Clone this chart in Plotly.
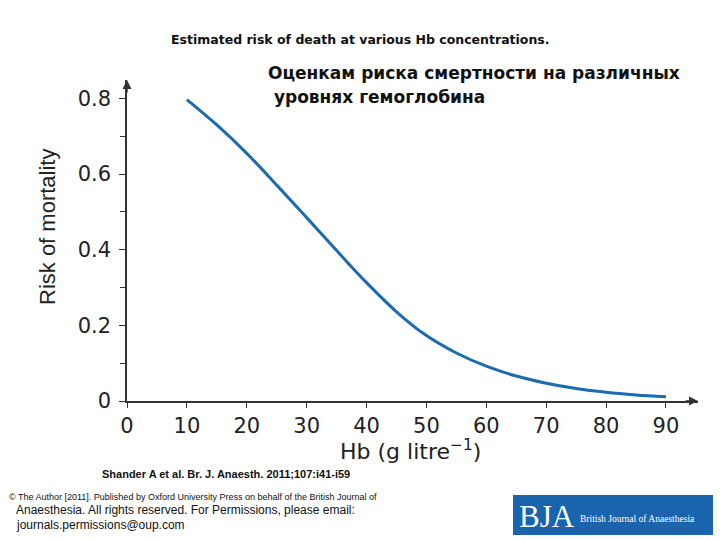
import plotly.graph_objects as go

hb = [10, 15, 20, 25, 30, 35, 40, 45, 50, 55, 60, 65, 70, 75, 80, 85, 90]
risk = [0.797, 0.73, 0.655, 0.571, 0.485, 0.398, 0.313, 0.236, 0.173, 0.127,
        0.092, 0.066, 0.047, 0.033, 0.023, 0.016, 0.011]

x_ticks = [0, 10, 20, 30, 40, 50, 60, 70, 80, 90]
y_ticks = [0, 0.2, 0.4, 0.6, 0.8]
y_tick_labels = ["0", "0.2", "0.4", "0.6", "0.8"]

W, H = 720, 540
L, R, T, B = 127, 22, 80, 139

def px(xp):
    return (xp - L) / (W - L - R)

def py(yp):
    return (H - B - yp) / (H - T - B)

fig = go.Figure()
fig.add_trace(go.Scatter(x=hb, y=risk, mode="lines",
                         line=dict(color="#1b6bb0", width=3, shape="spline", smoothing=1.0),
                         hoverinfo="skip", showlegend=False))

axis_font = dict(family="DejaVu Sans, sans-serif", size=21, color="#222")
fig.update_xaxes(range=[0, 95.35], tickvals=x_ticks, ticks="outside", ticklen=5,
                 tickcolor="#333", showline=True, linecolor="#333", linewidth=1.5,
                 showgrid=False, zeroline=False, tickfont=axis_font)
fig.update_yaxes(range=[0, 0.849], tickvals=y_ticks, ticktext=y_tick_labels, ticks="outside", ticklen=6,
                 tickcolor="#333", showline=True, linecolor="#333", linewidth=1.5,
                 minor=dict(dtick=0.1, ticks="outside", ticklen=5, tickcolor="#333"),
                 showgrid=False, zeroline=False, tickfont=axis_font, ticklabelstandoff=4)

ann = []
# axis arrowheads
ann.append(dict(x=0, y=0.849, xref="x", yref="y", ax=0, ay=14, axref="pixel", ayref="pixel",
                showarrow=True, arrowhead=2, arrowsize=1.2, arrowwidth=1.5, arrowcolor="#333", text=""))
ann.append(dict(x=95.35, y=0, xref="x", yref="y", ax=-14, ay=0,
                showarrow=True, arrowhead=2, arrowsize=1.2, arrowwidth=1.5, arrowcolor="#333", text=""))
# axis titles
ann.append(dict(x=px(47), y=py(227), xref="paper", yref="paper", showarrow=False,
                text="Risk of mortality", textangle=-90,
                font=dict(family="Liberation Sans, Arial, sans-serif", size=22, color="#222"),
                xanchor="center", yanchor="middle"))
ann.append(dict(x=px(410), y=py(450), xref="paper", yref="paper", showarrow=False,
                text="Hb (g litre<sup>−1</sup>)",
                font=dict(family="DejaVu Sans, sans-serif", size=22, color="#222"),
                xanchor="center", yanchor="middle"))
# titles
ann.append(dict(x=px(360), y=py(40), xref="paper", yref="paper", showarrow=False,
                text="<b>Estimated risk of death at various Hb concentrations.</b>",
                font=dict(family="DejaVu Sans, sans-serif", size=12.5, color="#111"),
                xanchor="center", yanchor="middle"))
ann.append(dict(x=px(266), y=py(73), xref="paper", yref="paper", showarrow=False,
                text="<b>Оценкам риска смертности на различных</b>",
                font=dict(family="DejaVu Sans, sans-serif", size=17, color="#111"),
                xanchor="left", yanchor="middle"))
ann.append(dict(x=px(266), y=py(97), xref="paper", yref="paper", showarrow=False,
                text="<b> уровнях гемоглобина</b>",
                font=dict(family="DejaVu Sans, sans-serif", size=17, color="#111"),
                xanchor="left", yanchor="middle"))
# citation
ann.append(dict(x=px(226), y=py(474), xref="paper", yref="paper", showarrow=False,
                text="<b>Shander A et al. Br. J. Anaesth. 2011;107:i41-i59</b>",
                font=dict(family="Liberation Sans Narrow, Liberation Sans, Arial, sans-serif", size=11, color="#111"),
                xanchor="center", yanchor="middle"))
ann.append(dict(x=px(7), y=py(497), xref="paper", yref="paper", showarrow=False,
                text="© The Author [2011]. Published by Oxford University Press on behalf of the British Journal of",
                font=dict(family="Liberation Sans Narrow, Liberation Sans, Arial, sans-serif", size=9, color="#111"),
                xanchor="left", yanchor="middle"))
ann.append(dict(x=px(14), y=py(510), xref="paper", yref="paper", showarrow=False,
                text="Anaesthesia. All rights reserved. For Permissions, please email:",
                font=dict(family="Liberation Sans, Arial, sans-serif", size=12, color="#111"),
                xanchor="left", yanchor="middle"))
ann.append(dict(x=px(14), y=py(525), xref="paper", yref="paper", showarrow=False,
                text="journals.permissions@oup.com",
                font=dict(family="Liberation Sans, Arial, sans-serif", size=12, color="#111"),
                xanchor="left", yanchor="middle"))
# BJA logo text
ann.append(dict(x=px(517), y=py(516), xref="paper", yref="paper", showarrow=False,
                text="BJA",
                font=dict(family="Liberation Serif, Times New Roman, serif", size=31, color="white"),
                xanchor="left", yanchor="middle"))
ann.append(dict(x=px(578), y=py(519), xref="paper", yref="paper", showarrow=False,
                text="British Journal of Anaesthesia",
                font=dict(family="Liberation Serif, Times New Roman, serif", size=9.5, color="white"),
                xanchor="left", yanchor="middle"))

shapes = [
    dict(type="rect", xref="paper", yref="paper", x0=px(513), x1=px(713), y0=py(495), y1=py(535),
         fillcolor="#1a64ad", line=dict(width=0), layer="below"),
]

fig.update_layout(width=W, height=H, margin=dict(l=L, r=R, t=T, b=B),
                  paper_bgcolor="white", plot_bgcolor="white",
                  annotations=ann, shapes=shapes, showlegend=False)

fig.write_html("out.html", config={"displayModeBar": False},
               post_script="document.body.style.margin='0';document.body.style.padding='0';")
